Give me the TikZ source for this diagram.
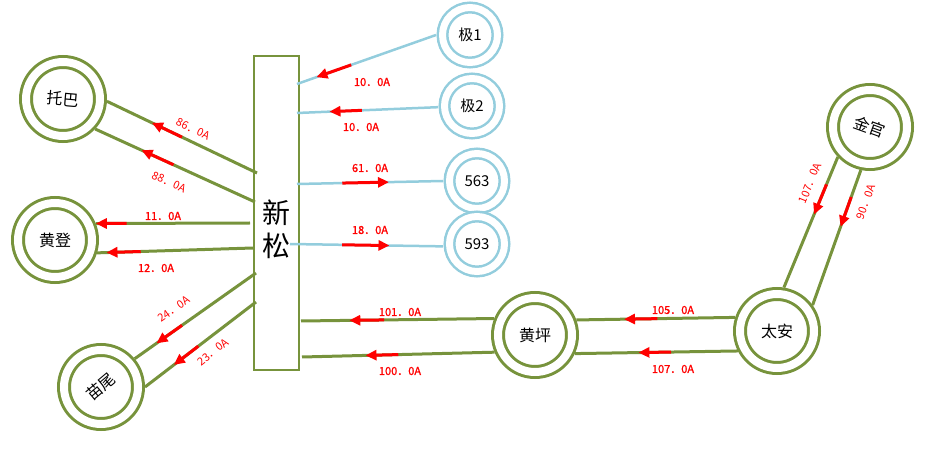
\documentclass[tikz,border=0pt]{standalone}
\usepackage{fontspec}
\usepackage{graphicx}
\usepackage{xcolor}
\usepackage{tikz}
\usetikzlibrary{arrows.meta}
\newfontfamily\cjk{Noto Sans CJK SC}
\newfontfamily\cjkheavy[FakeBold=1.2]{Noto Sans CJK SC}
\definecolor{olivegreen}{RGB}{119, 147, 60}
\definecolor{skyline}{RGB}{147, 205, 221}
\definecolor{flowred}{RGB}{255, 0, 0}
\tikzset{
  olivering/.style={circle, draw=olivegreen, line width=3pt, double=white, double distance=8pt,
    minimum size=74pt, inner sep=0pt, outer sep=7pt, font=\cjk\fontsize{16}{16}\selectfont},
  bluering/.style={circle, draw=skyline, line width=2.5pt, double=white, double distance=7pt,
    minimum size=55pt, inner sep=0pt, outer sep=6.5pt, font=\cjk\fontsize{15}{15}\selectfont},
  wire/.style={draw=olivegreen, line width=3pt},
  bluewire/.style={draw=skyline, line width=2.5pt},
  flow/.style={flowred, line width=3pt, -{Triangle[length=11pt,width=10pt]}},
  amps/.style={text=flowred, font=\cjkheavy\fontsize{11}{11}\selectfont, inner sep=0pt},
  tiltamps/.style={text=flowred, font=\cjk\fontsize{11}{11}\selectfont, inner sep=0pt}
}
\begin{document}
\begin{tikzpicture}[x=1pt, y=-1pt]
  \useasboundingbox (0,0) rectangle (927,449);
  % ---------- busbar ----------
  \node[draw=olivegreen, line width=1.5pt, minimum width=45pt, minimum height=314pt, inner sep=0pt] (xs) at (276.5,213) {};
  \node[font=\cjk\fontsize{28}{33}\selectfont, align=center, inner sep=0pt] (xsname) at (276,229) {新\\松};
  \coordinate (c1) at (257,173);
  \coordinate (c2) at (255,202);
  \coordinate (c3) at (250,223);
  \coordinate (c4) at (253,248);
  \coordinate (c5) at (256,273);
  \coordinate (c6) at (256,302);
  \coordinate (d1) at (297,84);
  \coordinate (d2) at (297,113);
  \coordinate (d3) at (297,184);
  \coordinate (d4) at (290,244);
  \coordinate (d5) at (301,321);
  \coordinate (d6) at (302,357);
  % ---------- stations ----------
  \node[olivering] (tb) at (63,99) {\rotatebox{-5}{托巴}};
  \node[olivering] (hd) at (55,240) {黄登};
  \node[olivering] (mw) at (101,387) {\rotatebox{40}{苗尾}};
  \node[bluering] (j1) at (470,35) {极1};
  \node[bluering] (j2) at (472,106) {极2};
  \node[bluering] (n563) at (477,181) {563};
  \node[bluering] (n593) at (477,244) {593};
  \node[olivering] (hp) at (535,335) {黄坪};
  \node[olivering] (ta) at (777,331) {太安};
  \node[olivering] (jg) at (870,127) {\rotatebox{-20}{金官}};
  % ---------- lines ----------
  \draw[wire] (c1) -- (tb.-3) coordinate[pos=.50] (f1s) coordinate[pos=.70] (f1e);
  \draw[wire] (c2) -- (tb.-43) coordinate[pos=.51] (f2s) coordinate[pos=.71] (f2e);
  \draw[wire] (c3) -- (hd.22) coordinate[pos=.80] (f3s) coordinate[pos=1] (f3e);
  \draw[wire] (c4) -- (hd.-17) coordinate[pos=.72] (f4s) coordinate[pos=.94] (f4e);
  \draw[wire] (c5) -- (mw.40) coordinate[pos=.61] (f5s) coordinate[pos=.82] (f5e);
  \draw[wire] (c6) -- (mw.0) coordinate[pos=.52] (f6s) coordinate[pos=.74] (f6e);
  \draw[bluewire] (j1.180) -- (d1) coordinate[pos=.61] (f7s) coordinate[pos=.86] (f7e);
  \draw[bluewire] (j2.-178) -- (d2) coordinate[pos=.54] (f8s) coordinate[pos=.77] (f8e);
  \draw[bluewire] (d3) -- (n563.180) coordinate[pos=.31] (f9s) coordinate[pos=.63] (f9e);
  \draw[bluewire] (d4) -- (n593.-176) coordinate[pos=.34] (f10s) coordinate[pos=.65] (f10e);
  \draw[wire] (hp.158) -- (d5) coordinate[pos=.57] (f11s) coordinate[pos=.75] (f11e);
  \draw[wire] (hp.-157) -- (d6) coordinate[pos=.50] (f12s) coordinate[pos=.67] (f12e);
  \draw[wire] (ta.162) -- (hp.20) coordinate[pos=.49] (f13s) coordinate[pos=.70] (f13e);
  \draw[wire] (ta.-153) -- (hp.-25) coordinate[pos=.41] (f14s) coordinate[pos=.61] (f14e);
  \draw[wire] (jg.-137) -- (ta.81) coordinate[pos=.21] (f15s) coordinate[pos=.44] (f15e);
  \draw[wire] (jg.-102) -- (ta.36) coordinate[pos=.20] (f16s) coordinate[pos=.42] (f16e);
  % ---------- current arrows ----------
  \draw[flow] (f1s) -- (f1e);
  \draw[flow] (f2s) -- (f2e);
  \draw[flow] (f3s) -- (f3e);
  \draw[flow] (f4s) -- (f4e);
  \draw[flow] (f5s) -- (f5e);
  \draw[flow] (f6s) -- (f6e);
  \draw[flow] (f7s) -- (f7e);
  \draw[flow] (f8s) -- (f8e);
  \draw[flow] (f9s) -- (f9e);
  \draw[flow] (f10s) -- (f10e);
  \draw[flow] (f11s) -- (f11e);
  \draw[flow] (f12s) -- (f12e);
  \draw[flow] (f13s) -- (f13e);
  \draw[flow] (f14s) -- (f14e);
  \draw[flow] (f15s) -- (f15e);
  \draw[flow] (f16s) -- (f16e);
  % ---------- labels ----------
  \node[tiltamps, rotate=-26] (a1) at (193,129) {86．0A};
  \node[tiltamps, rotate=-24] (a2) at (169,182) {88．0A};
  \node[amps] (a3) at (163,216) {11．0A};
  \node[amps] (a4) at (156,268) {12．0A};
  \node[tiltamps, rotate=35] (a5) at (174,309) {24．0A};
  \node[tiltamps, rotate=38] (a6) at (213,352) {23．0A};
  \node[amps] (a7) at (372,82) {10．0A};
  \node[amps] (a8) at (361,127) {10．0A};
  \node[amps] (a9) at (370,168) {61．0A};
  \node[amps] (a10) at (370,230) {18．0A};
  \node[amps] (a11) at (400,312) {101．0A};
  \node[amps] (a12) at (400,371) {100．0A};
  \node[amps] (a13) at (673,310) {105．0A};
  \node[amps] (a14) at (673,369) {107．0A};
  \node[tiltamps, rotate=68] (a15) at (810,183) {107．0A};
  \node[tiltamps, rotate=70] (a16) at (866,202) {90．0A};
\end{tikzpicture}
\end{document}
